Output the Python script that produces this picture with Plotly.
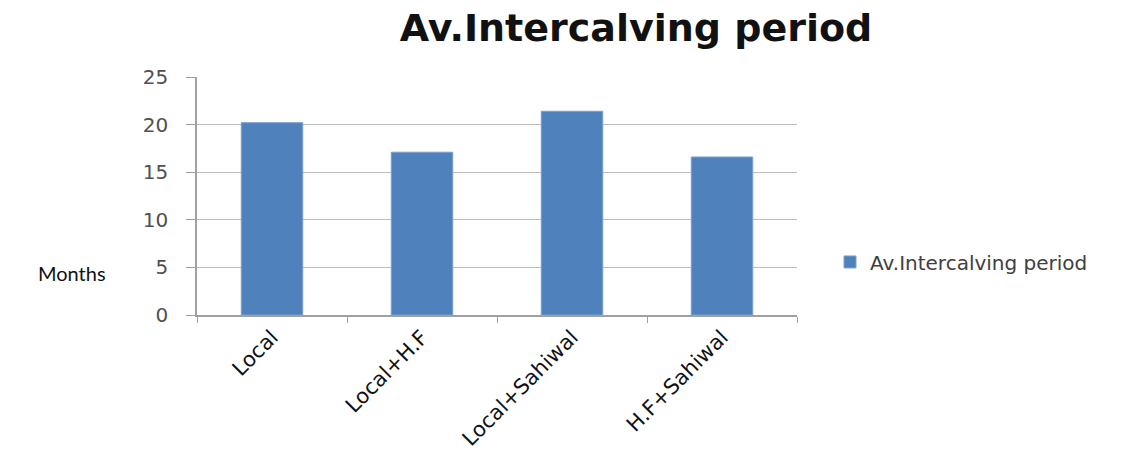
import plotly.graph_objects as go

categories = ["Local", "Local+H.F", "Local+Sahiwal", "H.F+Sahiwal"]
values = [20.2, 17.1, 21.4, 16.6]
series_name = "Av.Intercalving period"
y_ticks = [0, 5, 10, 15, 20, 25]

FONT = "DejaVu Sans, sans-serif"
FONT_M = "Lato, Calibri, sans-serif"

fig = go.Figure()
fig.add_trace(go.Bar(
    x=categories, y=values, name=series_name,
    marker=dict(color="#4f81bd", line=dict(color="#7ba0cf", width=1)),
    width=0.41,
))

fig.update_layout(
    width=1143, height=472,
    margin=dict(l=197, r=346, t=77, b=157),
    paper_bgcolor="white", plot_bgcolor="white",
    font=dict(family=FONT, color="#404040"),
    showlegend=True,
    title=dict(text="<b>Av.Intercalving period</b>", x=636/1143, xref="container", xanchor="center",
               y=1 - 28/472, yref="container", yanchor="middle",
               font=dict(size=38, color="#111111", family=FONT)),
    legend=dict(x=1.055, y=0.223, xanchor="left", yanchor="middle",
                font=dict(size=20, color="#404040", family=FONT),
                bgcolor="rgba(0,0,0,0)", itemwidth=30),
    bargap=0.59,
)

fig.update_yaxes(
    range=[0, 25], tickvals=y_ticks, ticks="outside", ticklen=9, tickcolor="#a0a0a0",
    showline=True, linecolor="#a0a0a0", linewidth=1.5,
    showgrid=True, gridcolor="#bfbfbf", gridwidth=1.2,
    tickfont=dict(size=20, color="#505050", family=FONT), zeroline=False,
    ticklabelstandoff=14,
)
fig.update_xaxes(
    tickson="boundaries", ticks="outside", ticklen=6, tickcolor="#a0a0a0",
    showline=True, linecolor="#a0a0a0", linewidth=1.5,
    tickangle=-45, tickfont=dict(size=21, color="#111111", family=FONT),
)

fig.add_annotation(text="Months", xref="paper", yref="paper", x=-0.208, y=0.176,
                   xanchor="center", yanchor="middle", showarrow=False,
                   font=dict(size=20, color="#111111", family=FONT_M))

fig.write_html("out.html")
